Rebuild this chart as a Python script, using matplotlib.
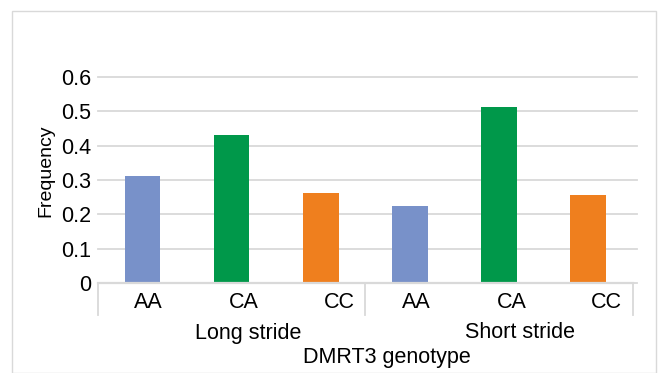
import matplotlib.pyplot as plt
import matplotlib.transforms as mtransforms
from matplotlib.patches import Rectangle

# data
groups = ['Long stride', 'Short stride']
genotypes = ['AA', 'CA', 'CC']
long_stride = [0.312, 0.431, 0.261]
short_stride = [0.224, 0.513, 0.256]
colors = ['#7891C9', '#00984A', '#EF7F1E']

W, H = 659, 373
FS = 15.5
plt.rcParams['font.family'] = ['Liberation Sans', 'DejaVu Sans']

fig = plt.figure(figsize=(W / 100, H / 100), dpi=100)

# outer chart border (Excel-style)
fig.patches.append(Rectangle((12 / W, 0), (656 - 12) / W, 1 - 11 / H,
                             transform=fig.transFigure, fill=False,
                             edgecolor='#D9D9D9', linewidth=1.0))

ax = fig.add_axes([98 / W, (H - 283) / H, (637 - 98) / W, (283 - 77) / H])

values = long_stride + short_stride
bar_colors = colors * len(groups)
xs = list(range(len(values)))
ax.bar(xs, values, width=0.4, color=bar_colors, zorder=3)

ax.set_xlim(-0.5, 5.55)
ax.set_ylim(0, 0.6)
ax.set_yticks([0, 0.1, 0.2, 0.3, 0.4, 0.5, 0.6])
ax.set_yticklabels(['0', '0.1', '0.2', '0.3', '0.4', '0.5', '0.6'], fontsize=FS)
ax.tick_params(axis='y', length=0, pad=5)
ax.set_xticks([])
ax.yaxis.grid(True, color='#D9D9D9', linewidth=1.3, zorder=0, clip_on=False)
for sp in ax.spines.values():
    sp.set_visible(False)

# category axis: baseline, separators and two levels of labels
trans = mtransforms.blended_transform_factory(ax.transData, fig.transFigure)
ax.plot([-0.5, 5.5], [0, 0], color='#D9D9D9', linewidth=1.6, clip_on=False, zorder=4)
for xsep in [-0.5, 2.5, 5.5]:
    ax.plot([xsep, xsep], [(H - 283) / H, (H - 315) / H], color='#D9D9D9',
            linewidth=1.3, transform=trans, clip_on=False)

for gi, g in enumerate(groups):
    for j, gt in enumerate(genotypes):
        x = gi * 3 + j + 0.07 * (j + 1)
        ax.text(x, (H - 303) / H, gt, transform=trans, ha='center', va='center',
                fontsize=FS)
    ax.text(gi * 3 + 1.19 + 0.05 * gi, (H - 333) / H, g, transform=trans,
            ha='center', va='center', fontsize=FS)

fig.text(387 / W, (H - 358) / H, 'DMRT3 genotype', ha='center', va='center',
         fontsize=FS)
fig.text(46 / W, (H - 171) / H, 'Frequency', rotation=90, ha='center',
         va='center', fontsize=14)

fig.savefig('out.png', dpi=100)
